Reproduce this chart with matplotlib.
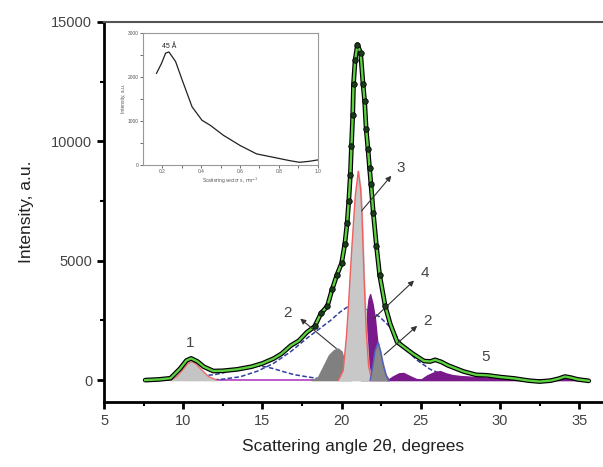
import numpy as np
import matplotlib
matplotlib.use("Agg")
import matplotlib.pyplot as plt

plt.rcParams['font.family'] = ['Liberation Sans', 'DejaVu Sans']

# measured envelope (2theta, intensity)
env_x = [7.6, 8.5, 9.2, 9.8, 10.2, 10.5, 10.9, 11.3, 11.9, 12.5, 13.4, 14.3, 15.0,
         15.7, 16.2, 16.8, 17.3, 17.8, 18.3, 18.7, 19.1, 19.4, 19.7, 20.0, 20.2,
         20.35, 20.45, 20.55, 20.62, 20.7, 20.75, 20.85, 21.0, 21.2, 21.35, 21.45,
         21.55, 21.66, 21.76, 21.85, 22.0, 22.2, 22.4, 22.75, 23.07, 23.5, 24.0,
         24.5, 25.2, 25.6, 25.9, 26.3, 26.7, 27.7, 28.5, 29.2, 30.0, 30.9, 31.8,
         32.5, 33.2, 33.7, 34.1, 34.5, 34.9, 35.6]
env_y = [0, 30, 80, 480, 820, 910, 780, 560, 380, 390, 450, 560, 700,
         900, 1100, 1450, 1650, 2000, 2250, 2800, 3100, 3800, 4400, 4900, 5700,
         6600, 7500, 8600, 9800, 11100, 12400, 13400, 14050, 13700, 12400, 11700,
         10500, 9700, 8900, 8200, 7000, 5600, 4400, 3100, 2350, 1600, 1350,
         1100, 800, 780, 850, 760, 620, 360, 220, 200, 130, 70, -20,
         -60, -20, 60, 150, 100, 30, -30]

# fitted components
p1_x = [9.2, 9.6, 10.0, 10.3, 10.55, 10.8, 11.2, 11.6, 12.1]
p1_y = [0, 150, 450, 700, 780, 680, 400, 150, 0]

broad_x = [11.5, 12.5, 13.6, 14.7, 15.7, 16.8, 17.8, 18.6, 19.3, 19.9, 20.4, 21.0,
           21.6, 22.4, 23.1, 23.9, 24.75, 25.6, 26.5, 27.5, 28.5]
broad_y = [0, 40, 140, 380, 700, 1200, 1750, 2150, 2500, 2850, 3080, 3050,
           2950, 2650, 2200, 1400, 840, 450, 200, 60, 0]

hump_x = [9.0, 10.0, 11.0, 12.0, 13.0, 13.6, 14.5, 15.2, 15.7, 16.4, 17.0, 17.8,
          18.5, 19.3, 20.0]
hump_y = [0, 80, 170, 230, 380, 520, 600, 560, 480, 340, 230, 140, 70, 20, 0]

dark_x = [18.1, 18.5, 18.9, 19.2, 19.5, 19.75, 20.0, 20.2, 20.4, 20.6]
dark_y = [0, 120, 650, 1050, 1250, 1330, 1200, 700, 200, 0]

p3_x = [19.8, 20.1, 20.3, 20.43, 20.55, 20.65, 20.86, 21.05, 21.2, 21.28, 21.42,
        21.55, 21.7, 21.9]
p3_y = [0, 400, 1800, 3100, 4500, 5600, 7700, 8750, 8000, 7000, 4200, 2100, 600, 0]

p4_x = [21.2, 21.4, 21.55, 21.7, 21.8, 21.95, 22.1, 22.25, 22.45, 22.7, 23.0]
p4_y = [0, 600, 2500, 3400, 3600, 3200, 2600, 1600, 800, 300, 0]

p2b_x = [21.8, 21.95, 22.1, 22.3, 22.45, 22.6, 22.8, 22.95]
p2b_y = [0, 500, 1200, 1580, 1200, 700, 200, 0]

p5_x = [22.9, 23.2, 23.6, 23.9, 24.3, 24.7, 25.0, 25.4, 25.8, 26.2, 26.6, 27.0,
        27.5, 28.0, 28.8, 29.8, 30.8, 31.8, 32.8, 33.5, 34.1, 34.6, 35.2, 35.6]
p5_y = [0, 140, 280, 300, 170, 50, 20, 200, 320, 380, 280, 210,
        170, 150, 120, 80, 40, 20, 20, 40, 110, 60, 20, 0]

# inset: SAXS curve
s_vals = [0.17, 0.195, 0.217, 0.234, 0.268, 0.302, 0.353, 0.404, 0.447, 0.515,
          0.600, 0.685, 0.770, 0.855, 0.906, 0.957, 1.0]
s_int = [2080, 2300, 2540, 2565, 2350, 1930, 1320, 1015, 900, 672,
         443, 252, 176, 99, 61, 84, 115]

fig = plt.figure(figsize=(6.03, 4.67), dpi=100)
ax = fig.add_axes([0.1725, 0.139, 0.8275, 0.814])

purple = "#7a1a8a"
ax.plot([11.5, 35.6], [0, 0], color="#b040c0", lw=1.2, zorder=2)
ax.plot(hump_x, hump_y, color="#3040a0", lw=1.1, ls=(0, (3, 1.5)), zorder=2.5)
ax.plot(broad_x, broad_y, color="#3040a0", lw=1.1, ls=(0, (3, 1.5)), zorder=2.5)
ax.fill_between(p1_x, p1_y, color="#c4c4c4", zorder=3)
ax.plot(p1_x, p1_y, color="#f07070", lw=1.0, zorder=3)
ax.fill_between(dark_x, dark_y, color="#808080", zorder=3)
ax.fill_between(p4_x, p4_y, color=purple, zorder=3.5)
ax.fill_between(p3_x, p3_y, color="#c8c8c8", zorder=4)
ax.plot(p3_x, p3_y, color="#f06060", lw=1.0, zorder=4)
ax.fill_between(p2b_x, p2b_y, color="#8a8a8a", zorder=4)
ax.plot(p2b_x, p2b_y, color="#5060c0", lw=1.0, zorder=4)
ax.fill_between(p5_x, p5_y, color=purple, zorder=3.5)

# envelope: black outline, green core, data dots
ax.plot(env_x, env_y, color="black", lw=3.4, solid_capstyle="round", zorder=6)
ax.plot(env_x, env_y, color="#5cd040", lw=1.7, zorder=7)
ax.plot(env_x[18:44], env_y[18:44], ls="none", marker="o", ms=4,
        mfc="#1a3a1a", mec="black", mew=0.5, zorder=8)

lab_col = "#444444"
ax.text(10.45, 1250, "1", fontsize=11, color=lab_col, ha="center", va="bottom")
ax.text(23.7, 8900, "3", fontsize=11, color=lab_col, ha="center", va="center")
ax.text(25.25, 4470, "4", fontsize=11, color=lab_col, ha="center", va="center")
ax.text(16.6, 2800, "2", fontsize=11, color=lab_col, ha="center", va="center")
ax.text(25.45, 2490, "2", fontsize=11, color=lab_col, ha="center", va="center")
ax.text(29.1, 960, "5", fontsize=11, color=lab_col, ha="center", va="center")

arrow = dict(arrowstyle="-|>", color="#333333", lw=0.8, mutation_scale=8)
ax.annotate("", xy=(17.25, 2650), xytext=(19.8, 1250), arrowprops=arrow, zorder=9)
ax.annotate("", xy=(23.25, 8650), xytext=(21.15, 7000), arrowprops=arrow, zorder=9)
ax.annotate("", xy=(24.7, 4250), xytext=(21.9, 2500), arrowprops=arrow, zorder=9)
ax.annotate("", xy=(24.9, 2350), xytext=(22.55, 980), arrowprops=arrow, zorder=9)

ax.set_xlim(5, 36.5)
ax.set_ylim(-920, 15000)
ax.set_xticks([5, 10, 15, 20, 25, 30, 35])
ax.set_xticks([7.5, 12.5, 17.5, 22.5, 27.5, 32.5], minor=True)
ax.set_yticks([0, 5000, 10000, 15000])
ax.set_yticks([2500, 7500, 12500], minor=True)
ax.spines["right"].set_visible(False)
for sp in ["left", "bottom"]:
    ax.spines[sp].set_linewidth(2)
ax.spines["top"].set_linewidth(1.5)
ax.spines["top"].set_color("#555555")
ax.tick_params(which="major", length=5, width=2, labelsize=10.5, labelcolor="#444444")
ax.tick_params(which="minor", length=3, width=1.5)
ax.set_xlabel("Scattering angle 2θ, degrees", fontsize=12.5, color="#222222", labelpad=8)
ax.set_ylabel("Intensity, a.u.", fontsize=12.5, color="#222222", labelpad=12)

ins = fig.add_axes([0.237, 0.6467, 0.290, 0.283])
ins.plot(s_vals, s_int, color="#222222", lw=0.9)
ins.text(0.2, 2650, "45 Å", fontsize=5, color="#222222")
ins.set_xlim(0.1, 1.0)
ins.set_ylim(0, 3000)
ins.set_xticks([0.2, 0.4, 0.6, 0.8, 1.0])
ins.set_xticks([0.3, 0.5, 0.7, 0.9], minor=True)
ins.set_yticks([0, 1000, 2000, 3000])
ins.set_yticks([500, 1500, 2500], minor=True)
for sp in ins.spines.values():
    sp.set_color("#999999")
    sp.set_linewidth(0.8)
ins.tick_params(which="both", labelsize=3.5, length=2, width=0.6, color="#555555",
                labelcolor="#555555", pad=1)
ins.set_xlabel("Scattering vector s, nm$^{-1}$", fontsize=3.5, color="#555555", labelpad=1)
ins.set_ylabel("Intensity, a.u.", fontsize=3.5, color="#555555", labelpad=1)

fig.savefig("out.png", dpi=100)
